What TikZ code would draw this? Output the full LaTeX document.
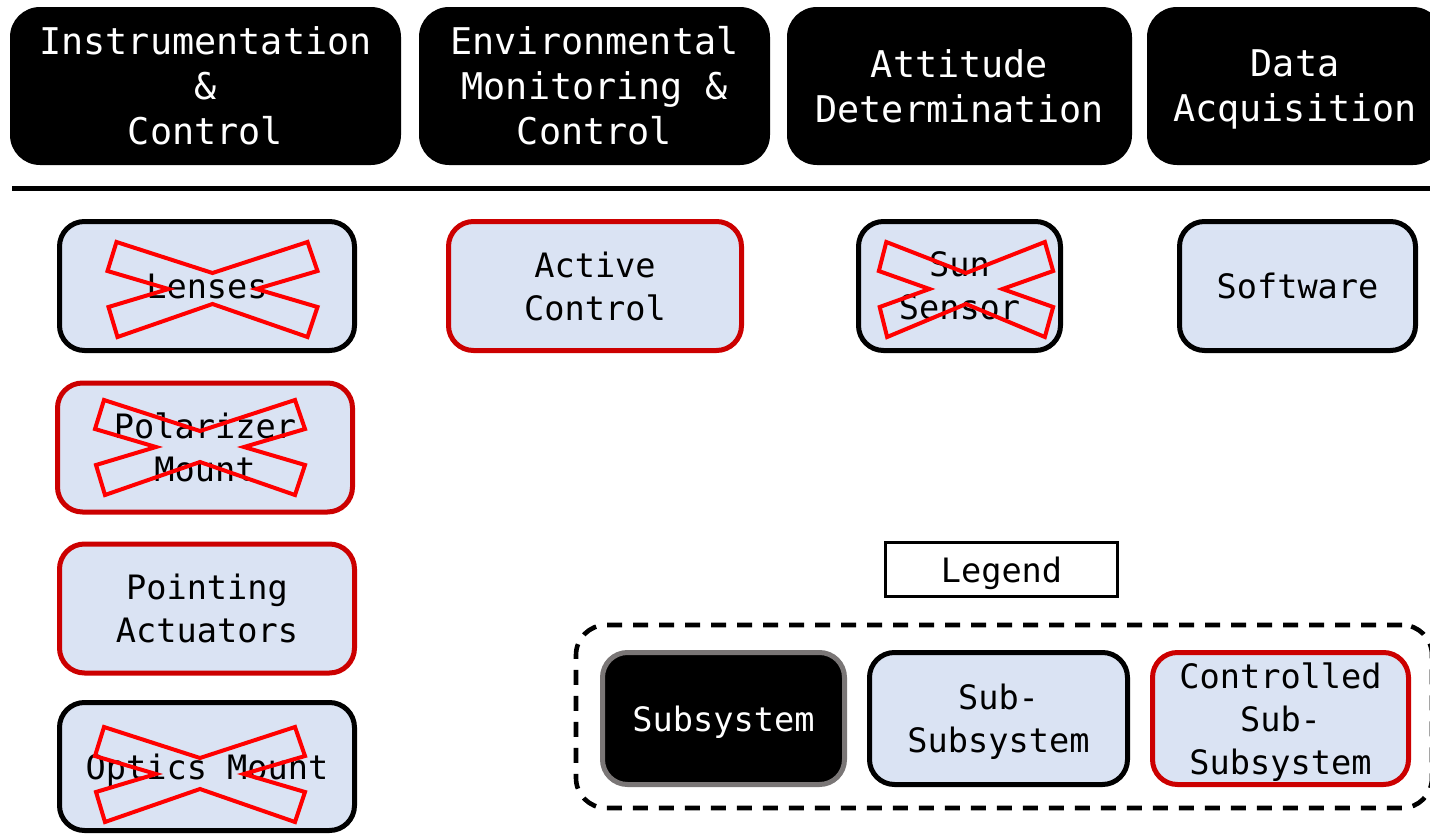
\documentclass[tikz,border=0pt]{standalone}
\usepackage{fontspec}
\setmainfont{DejaVu Sans Mono}
\definecolor{boxblue}{HTML}{DAE3F3}
\definecolor{boxred}{HTML}{CC0000}
\definecolor{xred}{HTML}{FF0000}
\definecolor{subgray}{HTML}{7A7676}
\tikzset{
  topbox/.style={fill=black, text=white, rounded corners=15pt, inner sep=0pt, align=center,
    font=\fontsize{18.4}{22.5}\selectfont, minimum height=79pt},
  subbox/.style={fill=boxblue, draw=black, line width=2.5pt, rounded corners=12.5pt, inner sep=0pt,
    align=center, font=\fontsize{16.8}{21.5}\selectfont, minimum height=64.5pt, minimum width=147.5pt},
  ctrlbox/.style={subbox, draw=boxred},
  legbox/.style={fill=black, draw=subgray, text=white, line width=2.5pt, rounded corners=12.5pt, inner sep=0pt,
    align=center, font=\fontsize{16.8}{21.5}\selectfont, minimum height=66pt},
  nodesc/.style={text depth=0pt},
  xline/.style={draw=xred, line width=2pt, line join=miter},
  xcross/.pic={\draw[xline] (-96,-47) -- (0,-16) -- (95,-47) -- (105,-18) -- (44,0) -- (105,18)
      -- (95,48) -- (0,15) -- (-95,48) -- (-104,18) -- (-44,0) -- (-105,-18) -- cycle;}
}
\begin{document}
\begin{tikzpicture}[x=0.5pt, y=-0.5pt]
\useasboundingbox (0,0) rectangle (1430,835);
% subsystem headers
\node[topbox, minimum width=195.5pt] (ic) at (205.5,86) {Instrumentation\\\&\\Control};
\node[topbox, minimum width=175.5pt] (emc) at (594.5,86) {Environmental\\Monitoring \&\\Control};
\node[topbox, minimum width=172.5pt] (ad) at (959.5,86) {Attitude\\Determination};
\node[topbox, nodesc, minimum width=148pt] (da) at (1295,86) {Data\\Acquisition};
% separator
\coordinate (sepL) at (12,188);
\coordinate (sepR) at (1445,188);
\draw[line width=2.5pt] (sepL) -- (sepR);
% sub-subsystems
\node[subbox] (lenses) at (207,286) {Lenses};
\node[ctrlbox] (polar) at (205,447.5) {Polarizer\\Mount};
\node[ctrlbox, nodesc] (point) at (207,608.5) {Pointing\\Actuators};
\node[subbox, nodesc, minimum height=64pt] (optics) at (207,766.5) {Optics Mount};
\node[ctrlbox, minimum width=146.5pt] (active) at (595,286) {Active\\Control};
\node[subbox, minimum width=101pt] (sun) at (959.5,286) {Sun\\Sensor};
\node[subbox, minimum width=118pt] (soft) at (1297.5,286) {Software};
% crosses
\pic at (212.5,289) {xcross};
\pic at (200,447) {xcross};
\pic at (200,774) {xcross};
\pic[xscale=0.83] at (966,289) {xcross};
% legend
\node[draw=black, nodesc, line width=1.5pt, fill=white, minimum width=116pt, minimum height=27pt, inner sep=0pt,
  font=\fontsize{16.8}{21.5}\selectfont] (legend) at (1001.5,569.5) {Legend};
\node[draw=black, dash pattern=on 7.5pt off 5.5pt, line width=2.3pt, rounded corners=15pt,
  minimum width=428pt, minimum height=91.5pt, inner sep=0pt] (legframe) at (1004,716.5) {};
\node[legbox, nodesc, minimum width=121pt] (lsub) at (723.5,718.5) {Subsystem};
\node[subbox, nodesc, minimum width=129pt, minimum height=66pt] (lsubsub) at (998.5,718.5) {Sub-\\Subsystem};
\node[ctrlbox, nodesc, minimum width=128pt, minimum height=66pt] (lctrl) at (1280.5,718.5) {Controlled\\Sub-\\Subsystem};
\end{tikzpicture}
\end{document}
